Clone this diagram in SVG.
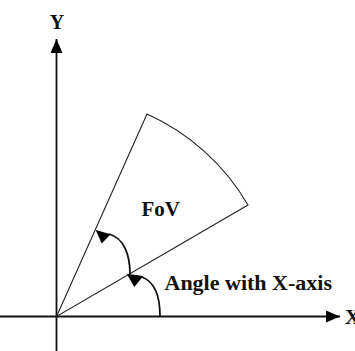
<svg xmlns="http://www.w3.org/2000/svg" width="355" height="351" viewBox="0 0 355 351">
<defs>
<style>
.lbl{font-family:"Liberation Serif","Times New Roman",serif;font-weight:bold;fill:#111;}
.thin{stroke:#222;stroke-width:1.1;fill:none;}
.axis{stroke:#111;stroke-width:1.8;fill:none;}
.arc{stroke:#111;stroke-width:1.8;fill:none;}
.head{fill:#000;stroke:none;}
</style>
<marker id="axArrow" viewBox="0 0 14 12" refX="14" refY="6" markerWidth="14" markerHeight="12" markerUnits="userSpaceOnUse" orient="auto">
<path d="M0,0 L14,6 L0,12 Z" fill="#000"/>
</marker>
</defs>
<rect width="355" height="351" fill="#fff"/>
<g id="axes">
<line class="axis" x1="0" y1="316.5" x2="340" y2="316.5" marker-end="url(#axArrow)"/>
<line class="axis" x1="56.5" y1="351" x2="56.5" y2="39" marker-end="url(#axArrow)"/>
<text class="lbl" x="57" y="28.5" font-size="20" text-anchor="middle">Y</text>
<text class="lbl" x="345" y="324" font-size="21">X</text>
</g>
<g id="fov">
<path class="thin" d="M56.5,316.5 L147,114 A222,222 0 0 1 248,205 Z"/>
<text class="lbl" x="141.5" y="215.5" font-size="21">FoV</text>
</g>
<g id="connectors">
<path class="arc" d="M160,316 C160,296 155,282 142,277"/>
<polygon class="head" points="126.7,273.7 143.3,276 134.3,287"/>
<path class="arc" d="M130,274 C130,255 124,238 109,234"/>
<polygon class="head" points="95.7,230 110.7,234.3 101.7,243.5"/>
</g>
<g id="angle-label">
<text class="lbl" x="164.5" y="290" font-size="22">Angle with X-axis</text>
</g>
</svg>
